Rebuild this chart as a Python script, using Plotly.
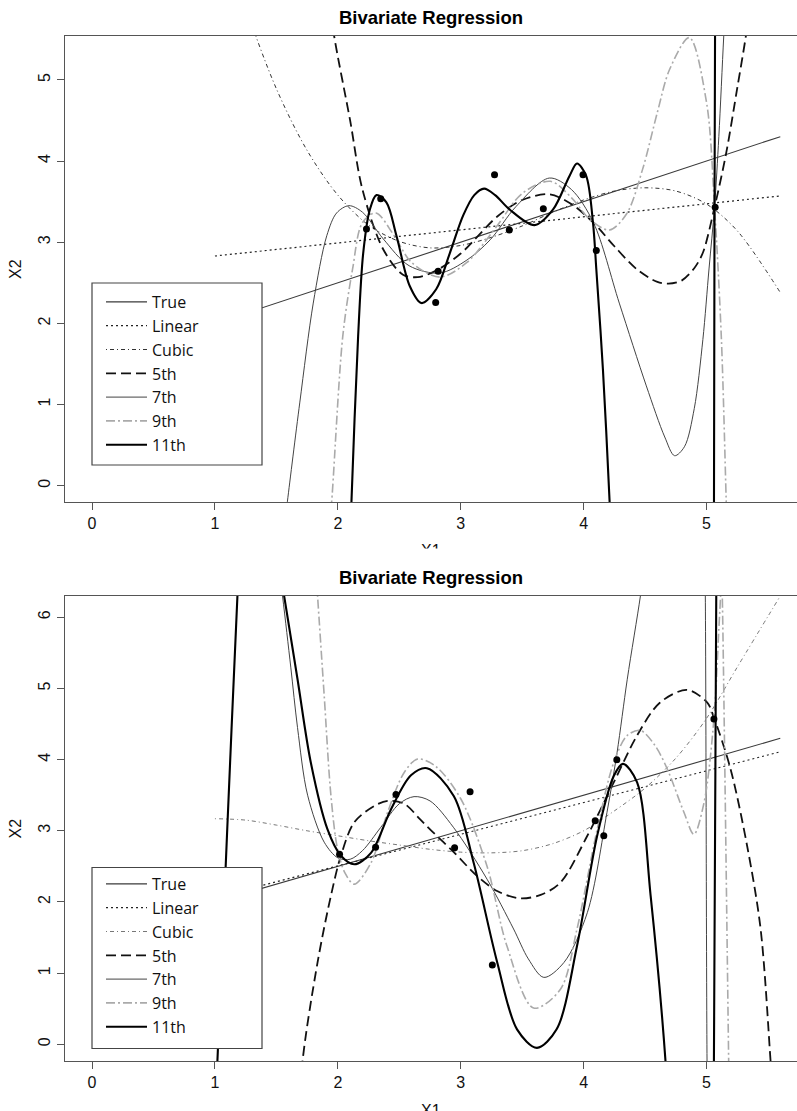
import plotly.graph_objects as go

# ---------------- data: top panel ----------------
top_pts_x = [2.233, 2.349, 2.816, 2.796, 3.275, 3.395, 3.672, 3.995, 4.103, 5.070]
top_pts_y = [3.164, 3.535, 2.642, 2.257, 3.832, 3.150, 3.412, 3.832, 2.898, 3.429]

top_true_x = [1.0, 5.6]
top_true_y = [2.0, 4.3]
top_lin_x = [1.0, 5.6]
top_lin_y = [2.83, 3.57]
top_cub_x = [1.0, 1.25, 1.5, 1.75, 2.0, 2.25, 2.5, 2.75, 3.0, 3.25, 3.5, 3.75, 4.0, 4.25, 4.5, 4.75, 5.0, 5.25, 5.6]
top_cub_y = [7.18, 5.90, 4.89, 4.13, 3.58, 3.21, 3.01, 2.93, 2.96, 3.06, 3.20, 3.37, 3.52, 3.63, 3.67, 3.63, 3.47, 3.14, 2.38]
top_p5_x = [1.93, 1.97, 2.1, 2.2, 2.37, 2.53, 2.65, 2.8, 3.0, 3.13, 3.3, 3.5, 3.72, 3.9, 4.08, 4.25, 4.43, 4.6, 4.69,
            4.8, 4.9, 4.97, 5.065, 5.16, 5.25, 5.32, 5.36]
top_p5_y = [6.0, 5.54, 4.5, 3.65, 2.91, 2.60, 2.57, 2.65, 2.86, 3.06, 3.32, 3.52, 3.59, 3.47, 3.24, 2.95, 2.67, 2.51, 2.49,
            2.53, 2.68, 2.87, 3.43, 4.10, 4.9, 5.54, 6.0]
top_p7_x = [1.57, 1.59, 1.69, 1.8, 1.91, 1.99, 2.09, 2.2, 2.37, 2.58, 2.83, 3.05, 3.24, 3.45, 3.72, 3.9, 4.08, 4.29,
            4.51, 4.66, 4.74, 4.82, 4.9, 4.97, 5.02, 5.065, 5.1, 5.14, 5.17]
top_p7_y = [-0.45, -0.19, 1.02, 2.25, 3.08, 3.36, 3.45, 3.37, 3.04, 2.71, 2.62, 2.78, 3.03, 3.44, 3.79, 3.65, 3.24, 2.25,
            1.23, 0.6, 0.37, 0.48, 0.95, 1.8, 2.67, 3.43, 4.3, 5.54, 6.4]
top_p9_x = [1.93, 1.95, 2.04, 2.12, 2.2, 2.31, 2.45, 2.6, 2.83, 3.05, 3.29, 3.5, 3.73, 3.9, 4.05, 4.21, 4.35, 4.48,
            4.6, 4.7, 4.86, 5.0, 5.065, 5.12, 5.16, 5.18]
top_p9_y = [-0.5, -0.19, 1.84, 2.67, 3.24, 3.36, 3.1, 2.75, 2.57, 2.75, 3.19, 3.6, 3.75, 3.55, 3.28, 3.15, 3.35, 3.9,
            4.6, 5.13, 5.52, 4.72, 3.43, 1.84, -0.19, -1.3]
top_p11_x = [2.09, 2.111, 2.165, 2.206, 2.26, 2.314, 2.395, 2.477, 2.585, 2.68, 2.80, 2.91, 3.02, 3.11, 3.19, 3.28,
             3.4, 3.6, 3.75, 3.886, 3.946, 4.02, 4.076, 4.103, 4.157, 4.211, 4.23, None, 5.06, 5.065, 5.07]
top_p11_y = [-1.2, -0.19, 1.84, 2.86, 3.40, 3.58, 3.49, 3.08, 2.46, 2.25, 2.42, 2.86, 3.33, 3.58, 3.66, 3.58,
             3.40, 3.21, 3.40, 3.82, 3.97, 3.82, 3.24, 2.67, 1.43, -0.19, -0.9, None, -0.6, 3.43, 6.0]

# ---------------- data: bottom panel ----------------
bot_pts_x = [2.014, 2.307, 2.473, 2.95, 3.076, 3.257, 4.094, 4.164, 4.27, 5.06]
bot_pts_y = [2.67, 2.77, 3.51, 2.76, 3.55, 1.115, 3.14, 2.93, 4.0, 4.57]

bot_true_x = [1.0, 5.6]
bot_true_y = [2.0, 4.3]
bot_lin_x = [1.0, 5.6]
bot_lin_y = [2.06, 4.11]
bot_cub_x = [1.0, 1.25, 1.5, 1.75, 2.0, 2.25, 2.5, 2.75, 3.0, 3.25, 3.5, 3.75, 4.0, 4.25, 4.5, 4.75, 5.0, 5.25, 5.6]
bot_cub_y = [3.17, 3.15, 3.08, 3.00, 2.93, 2.86, 2.80, 2.74, 2.70, 2.69, 2.72, 2.82, 3.00, 3.28, 3.60, 4.02, 4.58, 5.3, 6.3]
bot_p5_x = [1.69, 1.713, 1.835, 1.944, 2.025, 2.134, 2.297, 2.405, 2.54, 2.67, 2.75, 2.943, 3.13, 3.3, 3.485, 3.65,
            3.81, 4.03, 4.245, 4.435, 4.62, 4.842, 5.006, 5.06, 5.195, 5.33, 5.44, 5.521, 5.54]
bot_p5_y = [-1.0, -0.235, 1.15, 2.09, 2.65, 3.12, 3.35, 3.42, 3.38, 3.16, 3.02, 2.70, 2.37, 2.15, 2.05, 2.1,
            2.27, 2.93, 3.68, 4.34, 4.80, 4.98, 4.80, 4.59, 3.87, 2.79, 1.62, -0.235, -0.7]
bot_p7_x = [1.45, 1.55, 1.617, 1.672, 1.754, 1.889, 2.0, 2.1, 2.2, 2.35, 2.5, 2.62, 2.75, 2.94, 3.214, 3.43, 3.55,
            3.676, 3.84, 4.03, 4.19, 4.272, 4.355, 4.462, 4.5, None, 4.985, 4.99, 5.004, 5.01]
bot_p7_y = [7.7, 6.3, 5.3, 4.45, 3.5, 2.84, 2.62, 2.6, 2.72, 3.05, 3.38, 3.48, 3.42, 3.05, 2.32, 1.62, 1.2,
            0.94, 1.15, 1.85, 3.26, 4.10, 5.13, 6.3, 6.8, None, 6.9, 6.3, -0.235, -1.0]
bot_p9_x = [1.80, 1.835, 1.889, 1.944, 1.998, 2.06, 2.134, 2.27, 2.405, 2.54, 2.65, 2.8, 3.0, 3.214, 3.376, 3.593,
            3.81, 3.946, 4.11, 4.245, 4.355, 4.462, 4.58, 4.68, 4.816, 4.897, 4.98, 5.06, 5.1, 5.114, 5.118, None,
            5.124, 5.128, 5.18, 5.19]
bot_p9_y = [7.2, 6.3, 4.90, 3.49, 2.74, 2.4, 2.25, 2.55, 3.26, 3.82, 4.01, 3.9, 3.45, 2.5, 1.38, 0.51,
            0.77, 1.62, 3.02, 3.96, 4.34, 4.41, 4.2, 3.87, 3.26, 2.95, 3.40, 4.57, 5.83, 6.3, 6.5, None,
            6.5, 6.3, -0.235, -1.5]
bot_p11_x = [1.0, 1.02, 1.10, 1.183, 1.21, None, 1.54, 1.563, 1.672, 1.78, 1.916, 2.025, 2.134, 2.27, 2.432, 2.595,
             2.725, 2.943, 3.105, 3.297, 3.458, 3.62, 3.78, 3.946, 4.11, 4.245, 4.32, 4.435, 4.545, 4.666, 4.69,
             None, 5.058, 5.06, 5.079, 5.081]
bot_p11_y = [-0.9, -0.235, 3.02, 6.3, 7.2, None, 6.55, 6.3, 5.13, 3.96, 3.02, 2.65, 2.53, 2.69, 3.3, 3.78,
             3.88, 3.49, 2.55, 1.15, 0.21, -0.05, 0.21, 1.38, 2.93, 3.77, 3.94, 3.68, 2.09, -0.235, -1.0,
             None, -0.8, -0.235, 6.3, 6.9]

legend_names = ["True", "Linear", "Cubic", "5th", "7th", "9th", "11th"]
x_ticks = [0, 1, 2, 3, 4, 5]
y_ticks_top = [0, 1, 2, 3, 4, 5]
y_ticks_bot = [0, 1, 2, 3, 4, 5, 6]

# ---------------- styles ----------------
styles_top = [
    dict(color="#3a3a3a", width=1.1, dash="solid"),
    dict(color="#222222", width=1.2, dash="2px,3px"),
    dict(color="#333333", width=1.0, dash="1px,3px,4px,3px"),
    dict(color="#111111", width=1.8, dash="10px,5px"),
    dict(color="#444444", width=1.0, dash="solid"),
    dict(color="#aaaaaa", width=1.6, dash="9px,3px,2px,3px"),
    dict(color="#000000", width=2.1, dash="solid"),
]
styles_bot = [dict(s) for s in styles_top]
styles_bot[2] = dict(color="#777777", width=1.0, dash="1px,3px,4px,3px")

fig = go.Figure()

top_series = [(top_true_x, top_true_y), (top_lin_x, top_lin_y), (top_cub_x, top_cub_y), (top_p5_x, top_p5_y),
              (top_p7_x, top_p7_y), (top_p9_x, top_p9_y), (top_p11_x, top_p11_y)]
bot_series = [(bot_true_x, bot_true_y), (bot_lin_x, bot_lin_y), (bot_cub_x, bot_cub_y), (bot_p5_x, bot_p5_y),
              (bot_p7_x, bot_p7_y), (bot_p9_x, bot_p9_y), (bot_p11_x, bot_p11_y)]

for (xs, ys), name, st in zip(top_series, legend_names, styles_top):
    fig.add_trace(go.Scatter(x=xs, y=ys, mode="lines", name=name, line=dict(shape="spline", smoothing=0.9, **st),
                             xaxis="x", yaxis="y", legend="legend", connectgaps=False, hoverinfo="skip"))
fig.add_trace(go.Scatter(x=top_pts_x, y=top_pts_y, mode="markers", marker=dict(color="black", size=7),
                         xaxis="x", yaxis="y", showlegend=False, hoverinfo="skip"))

for (xs, ys), name, st in zip(bot_series, legend_names, styles_bot):
    fig.add_trace(go.Scatter(x=xs, y=ys, mode="lines", name=name, line=dict(shape="spline", smoothing=0.9, **st),
                             xaxis="x2", yaxis="y2", legend="legend2", connectgaps=False, hoverinfo="skip"))
fig.add_trace(go.Scatter(x=bot_pts_x, y=bot_pts_y, mode="markers", marker=dict(color="black", size=7),
                         xaxis="x2", yaxis="y2", showlegend=False, hoverinfo="skip"))

axis_font = dict(family="Liberation Sans, Arial, sans-serif", size=16, color="#111111")
common_x = dict(range=[-0.22, 5.736], tickmode="array", tickvals=x_ticks, ticks="outside", ticklen=7,
                tickcolor="#555555", showline=True, linecolor="#555555", linewidth=1.3, mirror=True,
                showgrid=False, zeroline=False, tickfont=axis_font)
common_y = dict(tickmode="array", ticks="outside", ticklen=7, tickangle=-90, tickcolor="#555555",
                showline=True, linecolor="#555555", linewidth=1.3, mirror=False, showgrid=False,
                zeroline=False, tickfont=axis_font)

top_dom = [0.5454, 1.0]
bot_dom = [0.0, 0.4537]

leg_common = dict(xanchor="left", yanchor="top", bgcolor="rgba(0,0,0,0)", borderwidth=0,
                  font=dict(family="Open Sans, Noto Sans, sans-serif", size=16, color="#111111"),
                  itemwidth=41, traceorder="normal")

fig.update_layout(
    width=797, height=1111,
    margin=dict(l=65, r=0, t=36, b=50),
    paper_bgcolor="white", plot_bgcolor="white",
    xaxis=dict(domain=[0, 1], anchor="y", **common_x),
    yaxis=dict(domain=top_dom, anchor="x", range=[-0.20, 5.54], tickvals=y_ticks_top, **common_y),
    xaxis2=dict(domain=[0, 1], anchor="y2", **common_x),
    yaxis2=dict(domain=bot_dom, anchor="x2", range=[-0.235, 6.30], tickvals=y_ticks_bot, **common_y),
    legend=dict(x=(101 - 65) / 732, y=(1061 - 285) / 1025, **leg_common),
    legend2=dict(x=(101 - 65) / 732, y=(1061 - 867) / 1025, **leg_common),
    showlegend=True,
)

# legend boxes (white, framed) drawn above the curves
for top_px, bot_px in [(283, 465), (867.5, 1048.5)]:
    fig.add_shape(type="rect", xref="paper", yref="paper",
                  x0=(92 - 65) / 732, x1=(262 - 65) / 732,
                  y0=(1061 - bot_px) / 1025, y1=(1061 - top_px) / 1025,
                  fillcolor="white", line=dict(color="#444444", width=1.2), layer="above")

title_font = dict(family="Liberation Sans, Arial, sans-serif", size=18.5, color="black")
lab_font = dict(family="Liberation Sans, Arial, sans-serif", size=16, color="#111111")
ann = []
for py in (18, 577):
    ann.append(dict(text="<b>Bivariate Regression</b>", x=0.5, y=(1061 - py) / 1025, xref="paper", yref="paper",
                    showarrow=False, font=title_font, xanchor="center", yanchor="middle"))
for py in (269, 828.5):
    ann.append(dict(text="X2", x=(15 - 65) / 732, y=(1061 - py) / 1025, xref="paper", yref="paper",
                    showarrow=False, font=lab_font, textangle=-90, xanchor="center", yanchor="middle"))
for py in (540, 1100):
    ann.append(dict(text="X1", x=0.5, y=(1061 - py) / 1025, xref="paper", yref="paper",
                    showarrow=False, font=lab_font, xanchor="center", yanchor="top"))
# the lower panel image overlaps the bottom of the upper X1 label
ann.append(dict(text=" ", x=0.5, y=(1061 - 548) / 1025, xref="paper", yref="paper", showarrow=False,
                width=60, height=14, bgcolor="white", xanchor="center", yanchor="top"))
fig.update_layout(annotations=ann)

fig.write_html("out.html", config={"displayModeBar": False},
               post_script="document.body.style.margin='0px';")
